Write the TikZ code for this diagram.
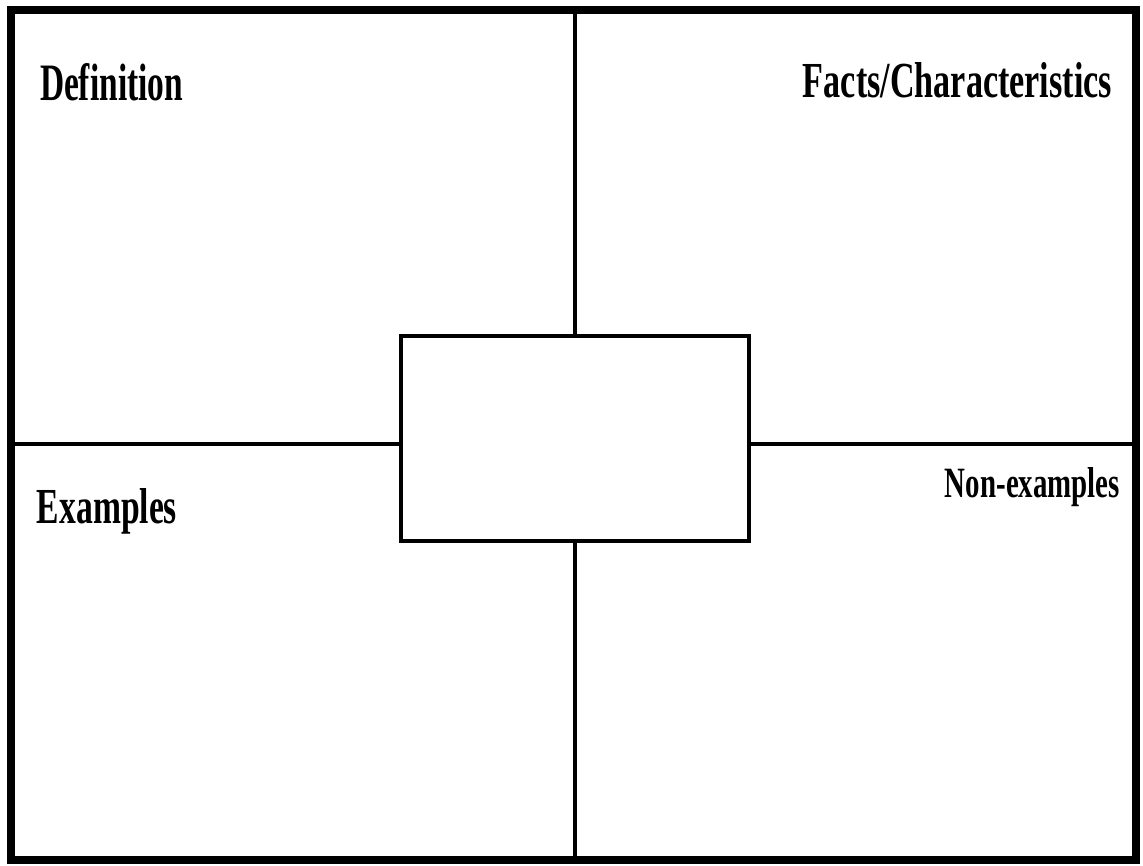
\documentclass[tikz,border=0pt]{standalone}
\usepackage{fontspec}
\setmainfont{Liberation Serif}
\usepackage{graphicx}
\tikzset{
  lbl/.style={inner sep=0pt, outer sep=0pt, font=\bfseries},
  frame/.style={line width=8pt},
  divider/.style={line width=3.5pt},
  centerbox/.style={draw, line width=4pt, minimum width=348pt, minimum height=205pt, inner sep=0pt}
}
\begin{document}
\begin{tikzpicture}[x=1pt,y=-1pt]
\useasboundingbox (0,0) rectangle (1143,865);
\fill[white] (0,0) rectangle (1143,865);
% outer frame
\draw[frame] (11,10) rectangle (1136,860);
% center box
\node[centerbox] (center) at (575,438.5) {};
% divider end points
\coordinate (topmid) at (575,10);
\coordinate (botmid) at (575,860);
\coordinate (leftmid) at (11,444);
\coordinate (rightmid) at (1136,444);
\draw[divider] (topmid) -- (center.north);
\draw[divider] (center.south) -- (botmid);
\draw[divider] (leftmid) -- (leftmid -| center.west);
\draw[divider] (rightmid -| center.east) -- (rightmid);
% labels
\node[lbl, anchor=base west] (def) at (40,100) {\resizebox{143pt}{37pt}{Definition}};
\node[lbl, anchor=base east] (facts) at (1112,97) {\resizebox{309pt}{35pt}{Facts/Characteristics}};
\node[lbl, anchor=base west] (ex) at (37,523) {\resizebox{140pt}{35pt}{Examples}};
\node[lbl, anchor=base east] (nonex) at (1120,497) {\resizebox{175pt}{30pt}{Non-examples}};
\end{tikzpicture}
\end{document}
